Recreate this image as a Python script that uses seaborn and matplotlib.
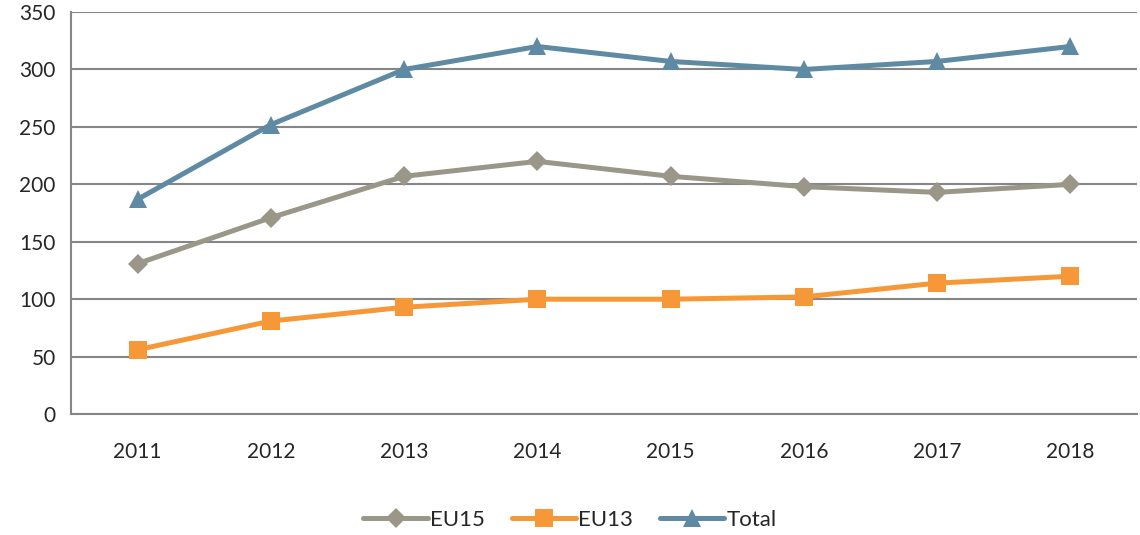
import pandas as pd
import matplotlib.pyplot as plt
import seaborn as sns
from matplotlib.ticker import FixedLocator

# data
years = ["2011", "2012", "2013", "2014", "2015", "2016", "2017", "2018"]
eu15 = [131, 171, 207, 220, 207, 198, 193, 200]
eu13 = [56, 81, 93, 100, 100, 102, 114, 120]
total = [187, 252, 300, 320, 307, 300, 307, 320]

df = pd.DataFrame({"Year": years * 3,
                   "Value": eu15 + eu13 + total,
                   "Series": ["EU15"] * 8 + ["EU13"] * 8 + ["Total"] * 8})

sns.set_style("white")
plt.rcParams["font.family"] = ["Lato", "DejaVu Sans"]

colors = {"EU15": "#9a9788", "EU13": "#f79838", "Total": "#5f8aa3"}
markers = {"EU15": "D", "EU13": "s", "Total": "^"}
msize = {"EU15": 10, "EU13": 13, "Total": 13}

fig = plt.figure(figsize=(11.4, 5.35), dpi=100)
ax = fig.add_axes([0.0623, 0.226, 0.935, 0.7515])

for name in ["EU15", "EU13", "Total"]:
    sub = df[df["Series"] == name]
    sns.lineplot(data=sub, x="Year", y="Value", ax=ax, color=colors[name],
                 marker=markers[name], markersize=msize[name], linewidth=3.6,
                 markeredgewidth=0, label=name, sort=False)

ax.set_xlim(-0.5, 7.5)
ax.set_ylim(0, 350)
ax.set_yticks(range(0, 351, 50))
ax.yaxis.grid(True, color="#868686", linewidth=1.5)
ax.set_axisbelow(True)
ax.xaxis.set_minor_locator(FixedLocator([i - 0.5 for i in range(9)]))
ax.tick_params(axis="x", which="major", length=0, pad=20, labelsize=15)
ax.tick_params(axis="x", which="minor", length=8, width=1.5, color="#868686")
ax.tick_params(axis="y", length=6, width=1.5, color="#868686", labelsize=15,
               pad=5)
ax.set_xlabel("")
ax.set_ylabel("")
for s in ["top", "right"]:
    ax.spines[s].set_visible(False)
for s in ["left", "bottom"]:
    ax.spines[s].set_color("#868686")
    ax.spines[s].set_linewidth(1.5)

ax.legend_.remove()
handles, labels = ax.get_legend_handles_labels()
fig.legend(handles, labels, loc="lower center", bbox_to_anchor=(0.5, -0.028),
           ncol=3, frameon=False, fontsize=16, handlelength=2.9,
           handletextpad=0.1, columnspacing=1.2)

plt.savefig("out.png", dpi=100)
